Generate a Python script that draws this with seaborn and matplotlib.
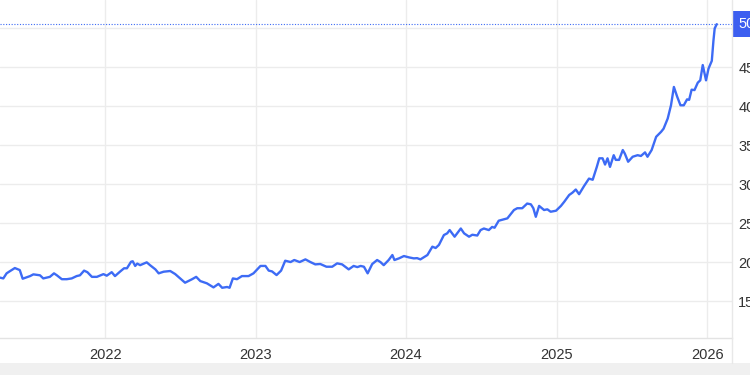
import matplotlib
matplotlib.use("Agg")
import matplotlib.pyplot as plt
from matplotlib.lines import Line2D
from matplotlib.patches import Rectangle
import seaborn as sns
import pandas as pd

dates = [
    "2021-04-21", "2021-04-29", "2021-05-07", "2021-05-13", "2021-05-27", "2021-06-08",
    "2021-06-15", "2021-07-03", "2021-07-11", "2021-07-27", "2021-08-04", "2021-08-20",
    "2021-08-30", "2021-09-06", "2021-09-18", "2021-09-30", "2021-10-12", "2021-10-24",
    "2021-11-01", "2021-11-11", "2021-11-19", "2021-11-30", "2021-12-12", "2021-12-28",
    "2022-01-05", "2022-01-17", "2022-01-25", "2022-02-06", "2022-02-16", "2022-02-23",
    "2022-03-05", "2022-03-09", "2022-03-15", "2022-03-20", "2022-03-27", "2022-04-12",
    "2022-04-20", "2022-05-03", "2022-05-11", "2022-05-23", "2022-06-08", "2022-06-20",
    "2022-07-02", "2022-07-14", "2022-07-31", "2022-08-10", "2022-08-20", "2022-09-05",
    "2022-09-21", "2022-10-03", "2022-10-12", "2022-10-24", "2022-10-30", "2022-11-07",
    "2022-11-17", "2022-11-29", "2022-12-15", "2022-12-27", "2023-01-13", "2023-01-25",
    "2023-02-02", "2023-02-10", "2023-02-21", "2023-03-04", "2023-03-14", "2023-03-27",
    "2023-04-05", "2023-04-18", "2023-05-02", "2023-05-14", "2023-05-26", "2023-06-07",
    "2023-06-22", "2023-07-06", "2023-07-18", "2023-07-30", "2023-08-15", "2023-08-27",
    "2023-09-05", "2023-09-13", "2023-09-21", "2023-09-30", "2023-10-11", "2023-10-23",
    "2023-10-31", "2023-11-08", "2023-11-20", "2023-11-29", "2023-12-04", "2023-12-15",
    "2023-12-27", "2024-01-08", "2024-01-20", "2024-01-28", "2024-02-05", "2024-02-13",
    "2024-02-22", "2024-03-05", "2024-03-13", "2024-03-21", "2024-04-02", "2024-04-10",
    "2024-04-16", "2024-04-28", "2024-05-13", "2024-05-21", "2024-06-02", "2024-06-10",
    "2024-06-22", "2024-06-30", "2024-07-08", "2024-07-20", "2024-07-28", "2024-08-03",
    "2024-08-13", "2024-09-03", "2024-09-19", "2024-09-27", "2024-10-09", "2024-10-21",
    "2024-10-30", "2024-11-05", "2024-11-11", "2024-11-19", "2024-12-01", "2024-12-09",
    "2024-12-17", "2024-12-30", "2025-01-11", "2025-01-19", "2025-01-31", "2025-02-08",
    "2025-02-16", "2025-02-24", "2025-03-08", "2025-03-20", "2025-03-29", "2025-04-08",
    "2025-04-14", "2025-04-22", "2025-04-28", "2025-05-04", "2025-05-10", "2025-05-19",
    "2025-05-24", "2025-06-01", "2025-06-10", "2025-06-15", "2025-06-23", "2025-07-04",
    "2025-07-16", "2025-07-24", "2025-08-03", "2025-08-09", "2025-08-19", "2025-08-30",
    "2025-09-11", "2025-09-17", "2025-09-27", "2025-10-05", "2025-10-12", "2025-10-20",
    "2025-10-28", "2025-11-05", "2025-11-13", "2025-11-18", "2025-11-24", "2025-12-01",
    "2025-12-09", "2025-12-15", "2025-12-21", "2025-12-29", "2026-01-04", "2026-01-12",
    "2026-01-16", "2026-01-19", "2026-01-24",
]
values = [
    18.0, 17.9, 18.55, 18.76, 19.23, 18.97,
    17.86, 18.2, 18.42, 18.3, 17.9, 18.1,
    18.55, 18.3, 17.8, 17.8, 17.9, 18.2,
    18.3, 18.9, 18.7, 18.1, 18.1, 18.45,
    18.25, 18.7, 18.2, 18.76, 19.2, 19.2,
    20.04, 20.1, 19.5, 19.8, 19.6, 19.96,
    19.6, 19.06, 18.55, 18.76, 18.85, 18.46,
    17.9, 17.35, 17.8, 18.1, 17.56, 17.27,
    16.75, 17.2, 16.7, 16.8, 16.7, 17.9,
    17.8, 18.2, 18.2, 18.55, 19.5, 19.5,
    18.9, 18.8, 18.33, 18.9, 20.17, 20.0,
    20.26, 20.0, 20.34, 20.0, 19.7, 19.75,
    19.4, 19.4, 19.83, 19.7, 19.06, 19.5,
    19.35, 19.5, 19.4, 18.55, 19.74, 20.26,
    20.0, 19.6, 20.26, 20.9, 20.26, 20.47,
    20.77, 20.6, 20.47, 20.5, 20.34, 20.6,
    20.9, 21.97, 21.8, 22.2, 23.46, 23.68,
    24.1, 23.25, 24.3, 23.68, 23.25, 23.5,
    23.4, 24.1, 24.3, 24.1, 24.5, 24.4,
    25.3, 25.6, 26.67, 26.9, 26.9, 27.5,
    27.4, 26.9, 25.8, 27.2, 26.67, 26.76,
    26.45, 26.58, 27.2, 27.73, 28.6, 28.9,
    29.3, 28.7, 29.74, 30.7, 30.55, 32.2,
    33.3, 33.3, 32.5, 33.3, 32.2, 33.7,
    33.1, 33.1, 34.36, 33.9, 32.86, 33.5,
    33.7, 33.6, 34.06, 33.5, 34.36, 36.06,
    36.7, 37.1, 38.4, 40.1, 42.45, 41.2,
    40.1, 40.1, 40.86, 40.8, 42.1, 42.05,
    43.0, 43.3, 45.26, 43.3, 44.8, 45.8,
    48.4, 49.96, 50.5,
]
year_ticks = ["2022-01-01", "2023-01-01", "2024-01-01", "2025-01-01", "2026-01-01"]
year_labels = ["2022", "2023", "2024", "2025", "2026"]
y_ticks = [15, 20, 25, 30, 35, 40, 45, 50]
y_labels = ["15", "20", "25", "30", "35", "40", "45", ""]  # "50" sits under the last-value box
last_label = "50.5"

df = pd.DataFrame({"date": pd.to_datetime(dates), "value": values})

sns.set_style("white")
plt.rcParams["font.family"] = ["Liberation Sans", "DejaVu Sans"]
line_color = "#3d6bf5"
box_color = "#3d5ff0"
grid_color = "#ececec"

fig = plt.figure(figsize=(7.5, 3.75), dpi=100)
ax = fig.add_axes([0.0, 1 - 338 / 375, 732 / 750, 338 / 375])

sns.lineplot(data=df, x="date", y="value", ax=ax, color=line_color, linewidth=1.7, zorder=3)

ax.set_xlim(pd.Timestamp("2021-04-21"), pd.Timestamp("2026-03-02"))
ax.set_ylim(10.26, 53.6)

ax.set_xticks(pd.to_datetime(year_ticks))
ax.set_xticklabels(year_labels)
ax.set_yticks(y_ticks)
ax.set_yticklabels(y_labels)
ax.yaxis.tick_right()
ax.tick_params(axis="both", length=0, labelsize=10.5, colors="#333333")
ax.tick_params(axis="y", pad=4.5)
ax.tick_params(axis="x", pad=7)
ax.set_xlabel("")
ax.set_ylabel("")
ax.grid(True, color=grid_color, linewidth=1.0)
ax.set_axisbelow(True)

for s in ["top", "left", "right"]:
    ax.spines[s].set_visible(False)
ax.spines["bottom"].set_color("#e3e3e3")
ax.spines["bottom"].set_linewidth(1.0)

last = values[-1]
ax.axhline(last, color=line_color, linestyle=(0, (1, 1.5)), linewidth=0.8, zorder=2)
ax.annotate(
    last_label, xy=(1.0, last), xycoords=("axes fraction", "data"),
    xytext=(4.5, 0), textcoords="offset points", ha="left", va="center",
    fontsize=10.5, color="white", zorder=10, annotation_clip=False,
    bbox=dict(boxstyle="square,pad=0.42", facecolor=box_color, edgecolor="none"),
)

# right border line extending down to the bottom band
fig.add_artist(Line2D([732 / 750, 732 / 750], [12 / 375, 1.0], transform=fig.transFigure,
                      color="#e8e8e8", linewidth=1.0))
# bottom grey band
fig.add_artist(Rectangle((0, 0), 1, 12 / 375, transform=fig.transFigure,
                         facecolor="#f0f0f0", edgecolor="none"))

fig.savefig("out.png", dpi=100)
